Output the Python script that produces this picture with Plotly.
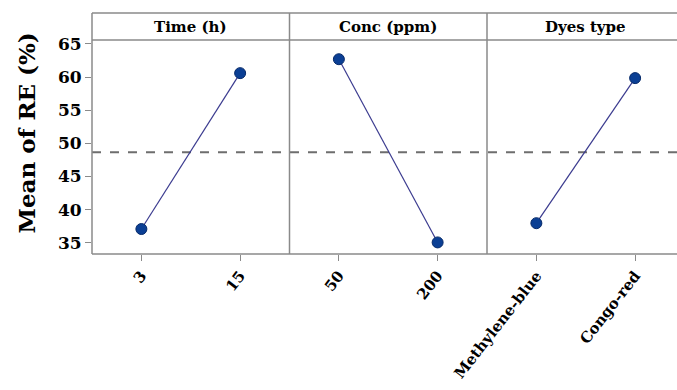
import plotly.graph_objects as go

# Data
factors = ["Time (h)", "Conc (ppm)", "Dyes type"]
levels_time = ["3", "15"]
levels_conc = ["50", "200"]
levels_dye = ["Methylene-blue", "Congo-red"]
mean_time = [37.07, 60.6]
mean_conc = [62.7, 35.05]
mean_dye = [37.95, 59.85]
grand_mean = 48.65
y_ticks = [35, 40, 45, 50, 55, 60, 65]

W, H = 677, 390
ml, mr, mt, mb = 92, 0, 13, 136
pw = W - ml - mr
ph = H - mt - mb
panel_px = 197.5
d1 = panel_px / pw
d2 = 2 * panel_px / pw
plot_top = (254 - 40) / ph  # fraction of paper height for plot area

FONT = "DejaVu Serif"
frame_col = "#8a8a8a"
line_col = "#3b3b8f"
mark_col = "#0b3f94"

fig = go.Figure()
sets = [(levels_time, mean_time, "x"), (levels_conc, mean_conc, "x2"), (levels_dye, mean_dye, "x3")]
for lv, mv, xa in sets:
    fig.add_trace(go.Scatter(
        x=lv, y=mv, xaxis=xa, yaxis="y", mode="lines+markers",
        line=dict(color=line_col, width=1.2),
        marker=dict(color=mark_col, size=11, line=dict(color="#062a6a", width=1)),
        showlegend=False, hoverinfo="x+y"))

def xcommon(lv):
    return dict(type="category", showgrid=False, zeroline=False, showline=False,
                ticks="outside", ticklen=6, tickwidth=1.2, tickcolor=frame_col,
                tickangle=-52, tickfont=dict(family=FONT, size=15, color="black"),
                tickmode="array", tickvals=lv, ticktext=["<b>%s</b>" % v for v in lv],
                anchor="y", automargin=False)

last_range = -0.5 + (W - ml - 2 * panel_px) / (panel_px / 2)
fig.update_layout(
    width=W, height=H,
    margin=dict(l=ml, r=mr, t=mt, b=mb),
    paper_bgcolor="white", plot_bgcolor="white",
    xaxis=dict(domain=[0, d1], range=[-0.5, 1.5], **xcommon(levels_time)),
    xaxis2=dict(domain=[d1, d2], range=[-0.5, 1.5], **xcommon(levels_conc)),
    xaxis3=dict(domain=[d2, 1], range=[-0.5, last_range], **xcommon(levels_dye)),
    yaxis=dict(domain=[0, plot_top], range=[33.3, 65.6], tickmode="array", tickvals=y_ticks,
               ticktext=["<b>%d</b>" % v for v in y_ticks], automargin=False,
               showgrid=False, zeroline=False, showline=False,
               ticks="outside", ticklen=6, tickwidth=1.2, tickcolor=frame_col,
               tickfont=dict(family=FONT, size=17, color="black")),
)

shapes = []
# dashed grand mean line
shapes.append(dict(type="line", xref="paper", yref="y", x0=0, x1=1, y0=grand_mean, y1=grand_mean,
                   line=dict(color="#6e6e6e", width=2, dash="dash"), layer="below"))
# frame: top, header line, bottom, left, dividers
lw = 1.5
shapes.append(dict(type="line", xref="paper", yref="paper", x0=0, x1=1, y0=1, y1=1, line=dict(color=frame_col, width=lw)))
shapes.append(dict(type="line", xref="paper", yref="paper", x0=0, x1=1, y0=plot_top, y1=plot_top, line=dict(color=frame_col, width=lw)))
shapes.append(dict(type="line", xref="paper", yref="paper", x0=0, x1=1, y0=0, y1=0, line=dict(color=frame_col, width=lw)))
for xv in [0, d1, d2]:
    shapes.append(dict(type="line", xref="paper", yref="paper", x0=xv, x1=xv, y0=0, y1=1, line=dict(color=frame_col, width=lw)))
fig.update_layout(shapes=shapes)

ann = []
centers = [d1 / 2, (d1 + d2) / 2, d2 + d1 / 2]
for name, cx in zip(factors, centers):
    ann.append(dict(text="<b>%s</b>" % name, x=cx, y=(plot_top + 1) / 2, xref="paper", yref="paper",
                    showarrow=False, xanchor="center", yanchor="middle",
                    font=dict(family=FONT, size=15, color="black")))
ann.append(dict(text="<b>Mean of RE (%)</b>", x=(26 - ml) / pw, y=0.5, xref="paper", yref="paper",
                showarrow=False, textangle=-90, xanchor="center", yanchor="middle",
                font=dict(family=FONT, size=23, color="black")))
fig.update_layout(annotations=ann)

fig.write_html("out.html", config={"displayModeBar": False},
               post_script="document.body.style.margin='0';document.body.style.overflow='hidden';")
